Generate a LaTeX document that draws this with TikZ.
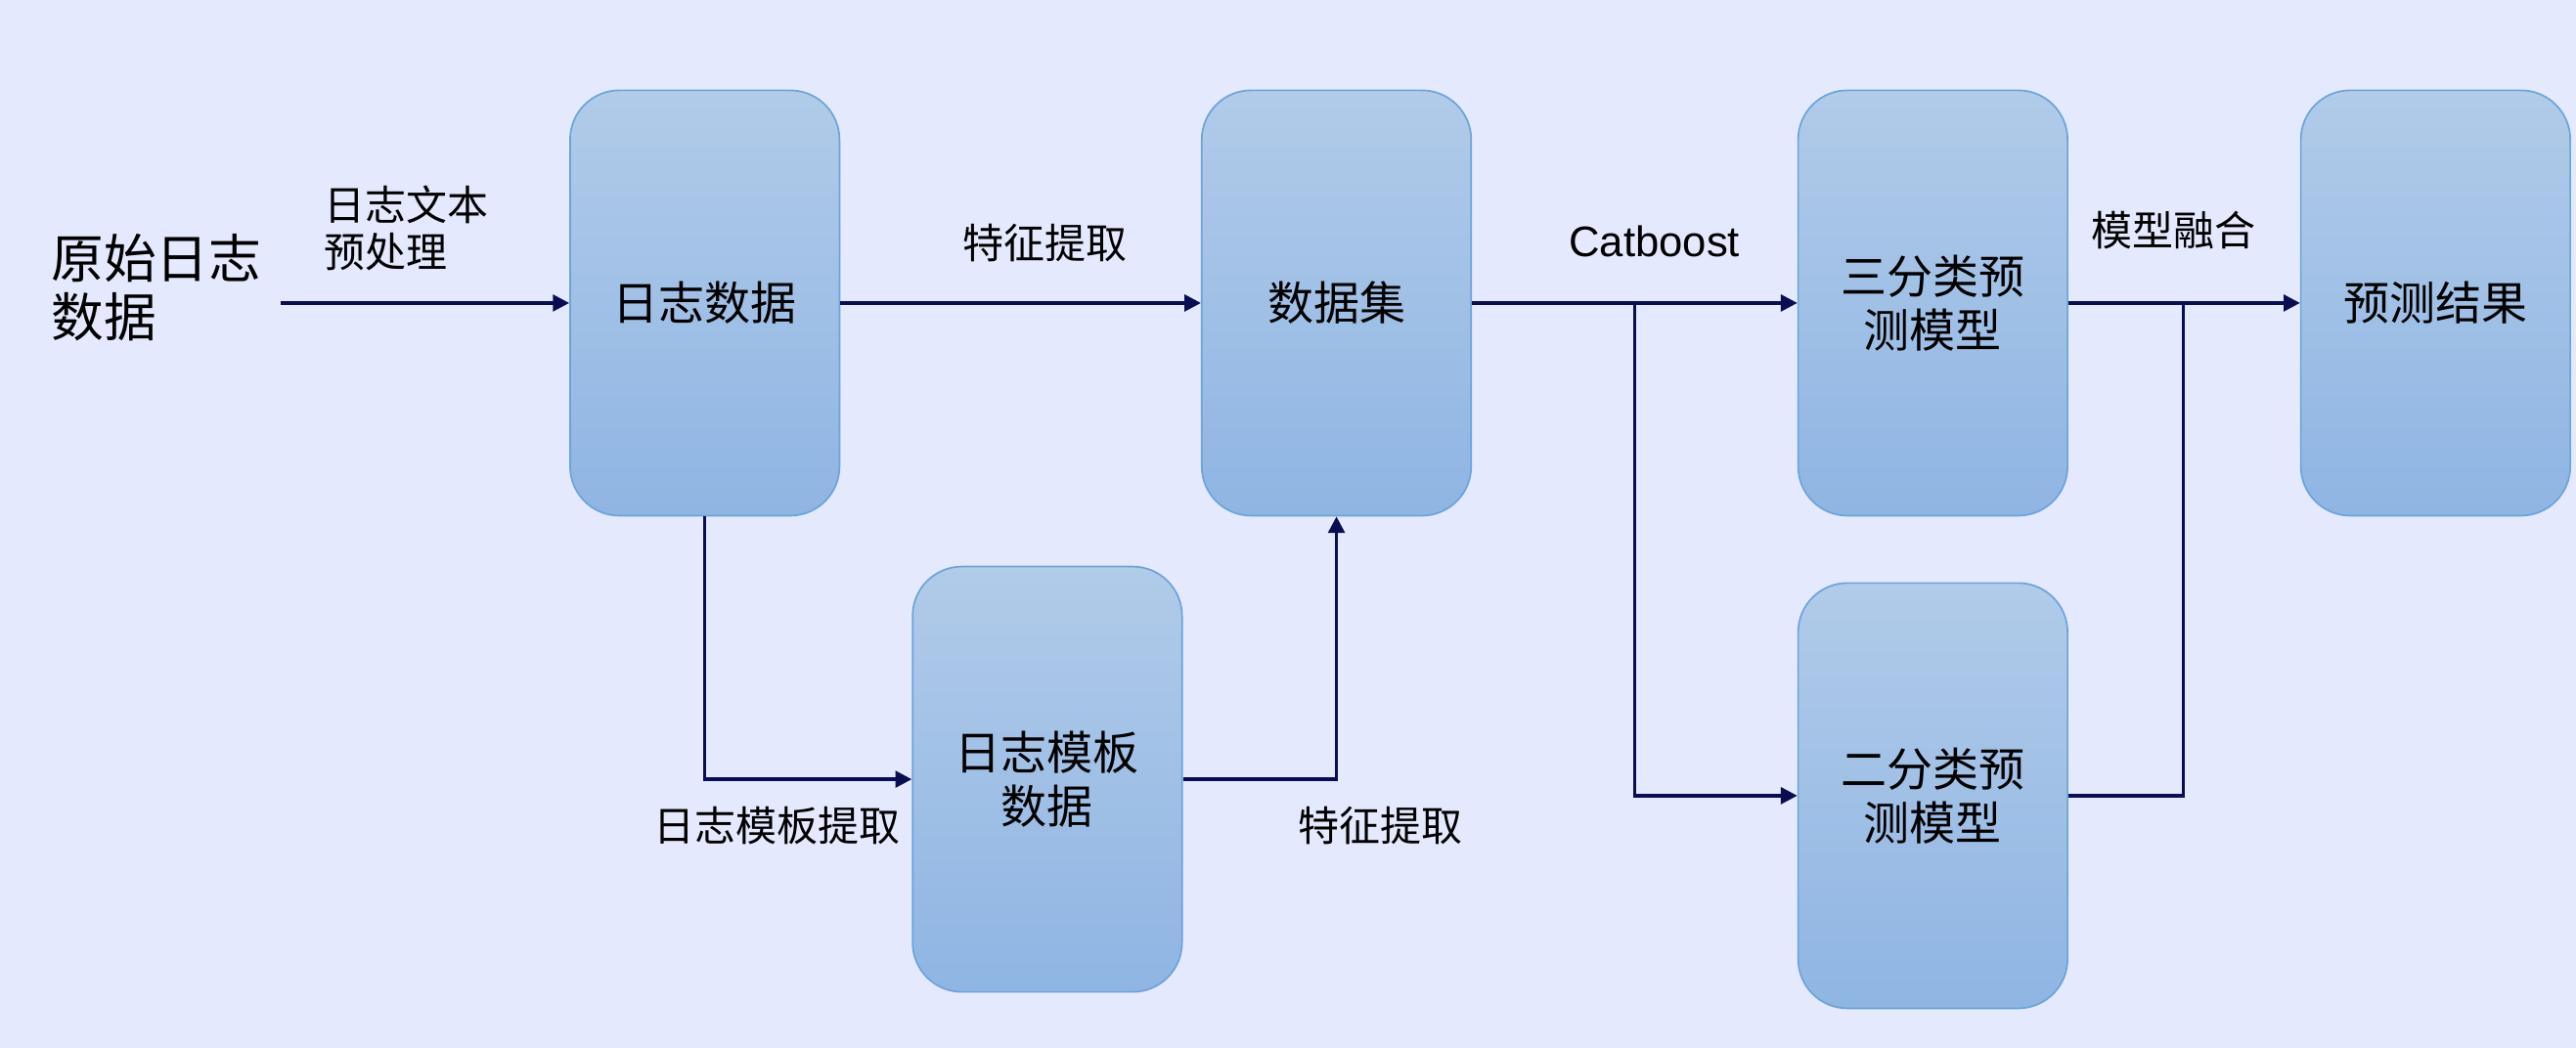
\documentclass[tikz,border=0pt]{standalone}
\usepackage{fontspec}
\setmainfont{Noto Sans CJK SC}
\newfontfamily\latfont{Liberation Sans}
\usetikzlibrary{arrows.meta}
\definecolor{bgc}{HTML}{E4E9FD}
\definecolor{boxtop}{HTML}{B1CBE9}
\definecolor{boxbot}{HTML}{8FB5E3}
\definecolor{boxline}{HTML}{6CA3DB}
\definecolor{linec}{HTML}{090E52}
\tikzset{
  box/.style={draw=boxline, line width=1pt, top color=boxtop, bottom color=boxbot,
    rounded corners=30pt, minimum width=164pt, minimum height=259pt,
    align=center, inner sep=0pt, font=\fontsize{28}{33}\selectfont},
  lbl/.style={align=left, inner sep=0pt, font=\fontsize{25}{29}\selectfont},
  arr/.style={draw=linec, line width=2pt, -{Triangle[length=10pt,width=10pt]}},
  ln/.style={draw=linec, line width=2pt}
}
\begin{document}
\begin{tikzpicture}[x=1pt,y=-1pt]
\path[fill=bgc,use as bounding box] (0,0) rectangle (1568,638);
\node[box] (a) at (429,184.5) {日志数据};
\node[box] (b) at (813.5,184.5) {数据集};
\node[box] (c) at (1176.5,184.5) {三分类预\\测模型};
\node[box] (e) at (1482.5,184.5) {预测结果};
\node[box] (t) at (637.5,474.5) {日志模板\\数据};
\node[box] (d) at (1176.5,484.5) {二分类预\\测模型};
\node[align=left, inner sep=0pt, font=\fontsize{32}{36}\selectfont, anchor=west] (o) at (31,175) {原始日志\\数据};
\node[lbl, anchor=west] (l1) at (197,139) {日志文本\\预处理};
\node[lbl] (l2) at (636,148) {特征提取};
\node[lbl] (l3) at (473,503) {日志模板提取};
\node[lbl] (l4) at (840,503) {特征提取};
\node[lbl, font=\latfont\fontsize{26}{30}\selectfont] (l5) at (1007,147) {Catboost};
\node[lbl] (l6) at (1323,140) {模型融合};
\coordinate (s) at (171,184.5);
\coordinate (br) at (995,184.5);
\coordinate (m) at (1329,184.5);
\draw[arr] (s) -- (a.west);
\draw[arr] (a.east) -- (b.west);
\draw[arr] (a.south) |- (t.west);
\draw[arr] (t.east) -| (b.south);
\draw[arr] (b.east) -- (c.west);
\draw[arr] (br) |- (d.west);
\draw[arr] (c.east) -- (e.west);
\draw[ln] (d.east) -| (m);
\end{tikzpicture}
\end{document}
